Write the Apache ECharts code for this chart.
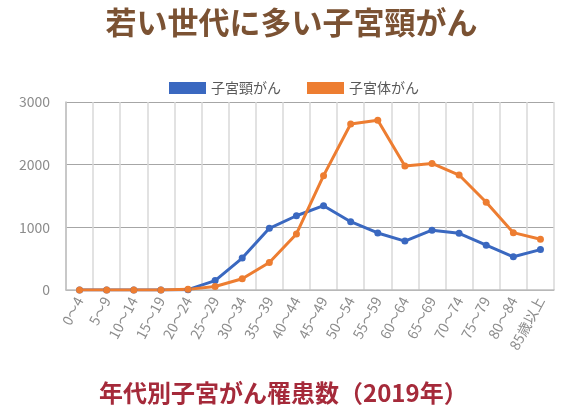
<!DOCTYPE html>
<html>
<head>
<meta charset="utf-8">
<script src="https://cdn.jsdelivr.net/npm/echarts@6/dist/echarts.min.js"></script>
<style>
  html, body { margin: 0; padding: 0; background: #fff; }
  #chart { width: 583px; height: 417px; }
</style>
</head>
<body>
<div id="chart"></div>
<script>
  // 年代区分
  const ageGroups = ['0〜4', '5〜9', '10〜14', '15〜19', '20〜24', '25〜29', '30〜34', '35〜39', '40〜44',
    '45〜49', '50〜54', '55〜59', '60〜64', '65〜69', '70〜74', '75〜79', '80〜84', '85歳以上'];
  // 子宮頸がん
  const cervical = [0, 0, 0, 0, 5, 150, 510, 985, 1185, 1345, 1090, 910, 780, 955, 905, 715, 530, 645];
  // 子宮体がん
  const uterine = [0, 0, 0, 0, 10, 55, 180, 440, 895, 1825, 2650, 2710, 1980, 2020, 1835, 1400, 915, 810];
  const yTicks = [0, 1000, 2000, 3000];

  const chart = echarts.init(document.getElementById('chart'));
  const font = '"Noto Sans CJK JP", "Noto Sans", sans-serif';

  const option = {
    animation: false,
    title: [
      {
        text: '若い世代に多い子宮頸がん',
        left: 'center',
        top: 2,
        textStyle: { fontFamily: font, fontSize: 31, fontWeight: 'bold', color: '#7b5233' }
      },
      {
        text: '年代別子宮がん罹患数（2019年）',
        left: 94,
        top: 376,
        textStyle: { fontFamily: font, fontSize: 24, fontWeight: 'bold', color: '#a52a3a' }
      }
    ],
    legend: {
      top: 76,
      left: 164,
      itemWidth: 37,
      itemHeight: 12,
      itemGap: 26,
      icon: 'rect',
      textStyle: { fontFamily: font, fontSize: 14, color: '#595959' },
      data: ['子宮頸がん', '子宮体がん']
    },
    grid: { left: 66, right: 29, top: 102, bottom: 127 },
    xAxis: {
      type: 'category',
      data: ageGroups,
      boundaryGap: true,
      axisLine: { lineStyle: { color: '#bfbfbf', width: 1.5 } },
      axisTick: { show: false },
      splitLine: { show: true, lineStyle: { color: '#d9d9d9', width: 1.5 } },
      axisLabel: {
        interval: 0,
        rotate: 62,
        margin: 8,
        fontFamily: font,
        fontSize: 14,
        color: '#8c8c8c'
      }
    },
    yAxis: {
      type: 'value',
      min: yTicks[0],
      max: yTicks[yTicks.length - 1],
      interval: 1000,
      axisLine: { show: true, lineStyle: { color: '#bfbfbf', width: 1.5 } },
      axisTick: { show: false },
      splitLine: { lineStyle: { color: '#a6a6a6', width: 1.2 } },
      axisLabel: {
        fontFamily: font,
        fontSize: 14,
        color: '#8c8c8c',
        margin: 16,
        formatter: v => String(v)
      }
    },
    series: [
      {
        name: '子宮頸がん',
        type: 'line',
        data: cervical,
        symbol: 'circle',
        symbolSize: 7,
        color: '#3a68c0',
        lineStyle: { width: 3 }
      },
      {
        name: '子宮体がん',
        type: 'line',
        data: uterine,
        symbol: 'circle',
        symbolSize: 7,
        color: '#ed7d31',
        lineStyle: { width: 3 }
      }
    ]
  };

  chart.setOption(option);
</script>
</body>
</html>
